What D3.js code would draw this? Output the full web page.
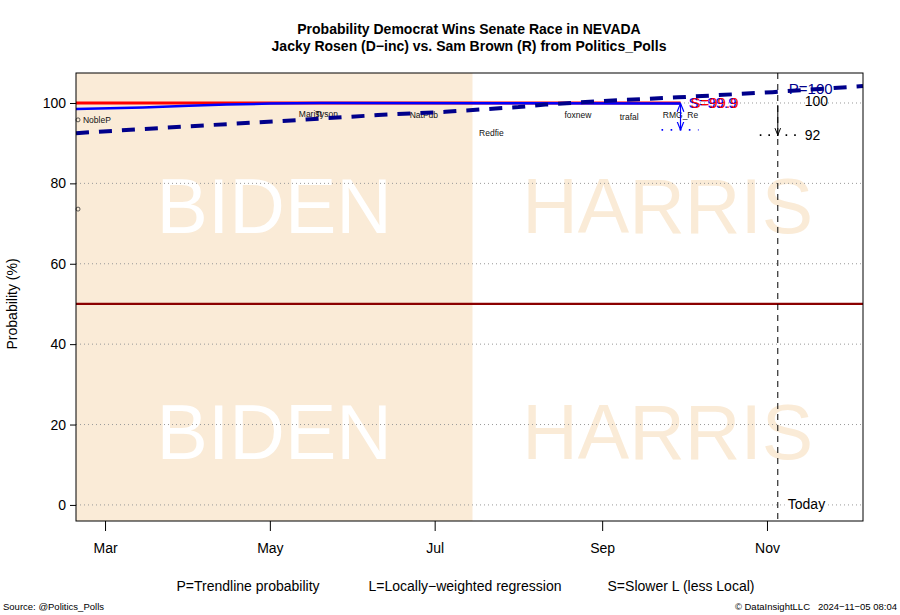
<!DOCTYPE html>
<html><head><meta charset="utf-8">
<script src="https://cdn.jsdelivr.net/npm/d3@7"></script>
<style>body{margin:0;background:#fff}svg{display:block;font-family:"Liberation Sans",Arial,sans-serif}</style>
</head><body><svg id="c" width="900" height="615"></svg>
<script>
const D = (y,m,d,h=0) => new Date(Date.UTC(y,m-1,d,h));
// ---- data ----
const xDomain = [D(2024,2,19,6), D(2024,12,6,13)];
const yDomain = [-4, 107.46];
const yTicks = [0,20,40,60,80,100];
const xTickDates = [D(2024,3,1), D(2024,5,1), D(2024,7,1), D(2024,9,1), D(2024,11,1)];
const xTickLabels = ["Mar","May","Jul","Sep","Nov"];
const bidenEnd = D(2024,7,15);
const today = D(2024,11,5);
// L: locally-weighted regression (red)
const lDates = [D(2024,2,19,6), D(2024,9,30)];
const lValues = [100, 100];
// S: slower L (blue solid)
const sDates = [D(2024,2,19,6), D(2024,3,15), D(2024,4,1), D(2024,4,15), D(2024,5,1), D(2024,5,20), D(2024,9,30)];
const sValues = [98.5, 98.9, 99.3, 99.6, 99.85, 100, 99.9];
// P: trendline probability (dark blue dashed)
const pDates = [D(2024,2,19,6), D(2024,4,1), D(2024,5,5), D(2024,6,10), D(2024,7,5), D(2024,8,1), D(2024,8,11), D(2024,9,1), D(2024,9,29), D(2024,11,3), D(2024,12,6,13)];
const pValues = [92.5, 94.2, 95.5, 97.0, 97.8, 99.0, 99.6, 100.5, 101.4, 102.7, 104.2];
// polls
const pollLabels = ["NobleP","Marist","Tyson","NatPub","Redfie","foxnew","trafal","RMG_Re"];
const pollDates = [D(2024,2,27), D(2024,5,16), D(2024,5,22), D(2024,6,27), D(2024,7,22), D(2024,8,23), D(2024,9,11), D(2024,9,30)];
const pollValues = [95.8, 97.3, 97.3, 97.1, 92.5, 97.0, 96.5, 97.0];
const circleDates = [D(2024,2,20), D(2024,2,20)];
const circleValues = [95.8, 73.6];
// end annotations
const sEndValue = 99.9, sLow = 93.3;
const pEndValue = 100, pLow = 92;

// ---- chart ----
const svg = d3.select("#c");
const L = 76, R = 863, T = 73, B = 521;
const x = d3.scaleUtc().domain(xDomain).range([L, R]);
const y = d3.scaleLinear().domain(yDomain).range([B, T]);

// background regions
svg.append("rect").attr("x", L).attr("y", T).attr("width", x(bidenEnd) - L).attr("height", B - T).attr("fill", "#FAEBD7");

// watermarks
const wm = (txt, cx, vy, col) => svg.append("text").attr("x", cx).attr("y", vy).attr("text-anchor","middle")
  .attr("font-size", 77).attr("fill", col).text(txt);
const bidenMid = (L + x(bidenEnd)) / 2, harrisMid = (x(bidenEnd) + R) / 2;
wm("BIDEN", bidenMid, 233, "#ffffff");
wm("BIDEN", bidenMid, 459, "#ffffff");
wm("HARRIS", harrisMid, 233, "#FAEBD7");
wm("HARRIS", harrisMid, 459, "#FAEBD7");

// gridlines
svg.append("g").selectAll("line").data(yTicks).join("line")
  .attr("x1", L).attr("x2", R).attr("y1", d => y(d)).attr("y2", d => y(d))
  .attr("stroke", "#999").attr("stroke-width", 1).attr("stroke-dasharray", "1,3");

// 50% line
svg.append("line").attr("x1", L).attr("x2", R).attr("y1", y(50)).attr("y2", y(50))
  .attr("stroke", "#8B0000").attr("stroke-width", 2.2);

// poll labels & circles
svg.append("g").selectAll("text").data(pollLabels).join("text")
  .attr("x", (d,i) => x(pollDates[i])).attr("y", (d,i) => y(pollValues[i]) + 3)
  .attr("text-anchor","middle").attr("font-size", 8.5).attr("fill", "#111").text(d => d);
svg.append("g").selectAll("circle").data(circleValues).join("circle")
  .attr("cx", (d,i) => x(circleDates[i])).attr("cy", d => y(d)).attr("r", 2)
  .attr("fill","none").attr("stroke","#333").attr("stroke-width",0.8);

const line = d3.line().x(d => x(d[0])).y(d => y(d[1]));
svg.append("path").attr("d", line(d3.zip(lDates, lValues))).attr("fill","none").attr("stroke","#ff0000").attr("stroke-width",3);
svg.append("path").attr("d", line(d3.zip(sDates, sValues))).attr("fill","none").attr("stroke","#0000ff").attr("stroke-width",2.5);

// S annotation (blue)
const sx = x(sDates[sDates.length-1]);
const defs = svg.append("defs");
const mk = (id, col) => defs.append("marker").attr("id", id).attr("viewBox","0 0 10 10").attr("refX",10).attr("refY",5)
  .attr("markerWidth",7).attr("markerHeight",7).attr("orient","auto-start-reverse")
  .append("path").attr("d","M0,1 L10,5 L0,9").attr("fill","none").attr("stroke",col).attr("stroke-width",1.4);
mk("ab","#0000ff"); mk("ak","#000");
svg.append("line").attr("x1", sx).attr("x2", sx).attr("y1", y(sEndValue)).attr("y2", y(sLow))
  .attr("stroke","#0000ff").attr("stroke-width",1.2).attr("marker-start","url(#ab)").attr("marker-end","url(#ab)");
svg.append("line").attr("x1", sx - 19).attr("x2", sx + 18).attr("y1", y(sLow)).attr("y2", y(sLow))
  .attr("stroke","#0000ff").attr("stroke-width",1.6).attr("stroke-dasharray","1.6,7.5");

// Today line
const tx = x(today);
svg.append("line").attr("x1", tx).attr("x2", tx).attr("y1", T).attr("y2", B)
  .attr("stroke","#000").attr("stroke-width",1).attr("stroke-dasharray","6,5");
svg.append("rect").attr("x", tx + 7).attr("y", y(0) - 9).attr("width", 42).attr("height", 17).attr("fill","#fff");
svg.append("text").attr("x", tx + 10).attr("y", y(0) + 4).attr("font-size", 14).text("Today");

// P annotation (black)
svg.append("line").attr("x1", tx).attr("x2", tx).attr("y1", y(pEndValue) + 2).attr("y2", y(pLow))
  .attr("stroke","#000").attr("stroke-width",1).attr("marker-end","url(#ak)");
svg.append("line").attr("x1", tx - 18).attr("x2", tx + 18).attr("y1", y(pLow)).attr("y2", y(pLow))
  .attr("stroke","#000").attr("stroke-width",1.6).attr("stroke-dasharray","1.6,7");
svg.append("text").attr("x", tx + 27).attr("y", y(pEndValue) + 3).attr("font-size", 14).text(String(pEndValue));
svg.append("text").attr("x", tx + 27).attr("y", y(pLow) + 5).attr("font-size", 14).text(String(pLow));
svg.append("text").attr("x", tx + 11).attr("y", y(pValues[pValues.length-2]) + 2).attr("font-size", 15)
  .attr("fill","#00008B").text("P=" + pEndValue);

// S label
svg.append("text").attr("x", sx + 8).attr("y", y(sEndValue) + 5).attr("font-size", 15).attr("fill","#0000ff").text("S=" + sEndValue);
svg.append("text").attr("x", sx + 10).attr("y", y(sEndValue) + 5).attr("font-size", 15).attr("fill","#ff0000").text("S=" + sEndValue);

// P trend
svg.append("path").attr("d", line(d3.zip(pDates, pValues))).attr("fill","none").attr("stroke","#00008B")
  .attr("stroke-width",4).attr("stroke-dasharray","13,10");

// frame
svg.append("rect").attr("x", L).attr("y", T).attr("width", R - L).attr("height", B - T)
  .attr("fill","none").attr("stroke","#000").attr("stroke-width",1);

// axes
const yAx = svg.append("g").attr("transform", `translate(${L},0)`)
  .call(d3.axisLeft(y).tickValues(yTicks).tickSize(6).tickPadding(4));
yAx.select(".domain").remove();
yAx.selectAll("text").attr("font-size", 14).attr("font-family", "Liberation Sans, Arial, sans-serif").attr("fill","#000");
const xAx = svg.append("g").attr("transform", `translate(0,${B})`)
  .call(d3.axisBottom(x).tickValues(xTickDates).tickFormat((d,i) => xTickLabels[i]).tickSize(10).tickPadding(12));
xAx.select(".domain").remove();
xAx.selectAll("text").attr("font-size", 14).attr("font-family", "Liberation Sans, Arial, sans-serif").attr("fill","#000");

svg.append("text").attr("transform", `translate(17,${(y(0)+y(100))/2+ (y(50)-(y(0)+y(100))/2)}) rotate(-90)`)
  .attr("text-anchor","middle").attr("font-size", 14).text("Probability (%)");

// titles
svg.append("text").attr("x", 469).attr("y", 34).attr("text-anchor","middle").attr("font-size", 14).attr("font-weight","bold")
  .text("Probability Democrat Wins Senate Race in NEVADA");
svg.append("text").attr("x", 469).attr("y", 51).attr("text-anchor","middle").attr("font-size", 14).attr("font-weight","bold")
  .text("Jacky Rosen (D\u2212inc) vs. Sam Brown (R) from Politics_Polls");

// legend
const legendItems = ["P=Trendline probability", "L=Locally\u2212weighted regression", "S=Slower L (less Local)"];
const legendX = [248, 465, 681];
svg.append("g").selectAll("text").data(legendItems).join("text")
  .attr("x", (d,i) => legendX[i]).attr("y", 591).attr("text-anchor","middle").attr("font-size", 14).text(d => d);

// footer
svg.append("text").attr("x", 3).attr("y", 610).attr("font-size", 9.5).text("Source: @Politics_Polls");
svg.append("text").attr("x", 897).attr("y", 610).attr("text-anchor","end").attr("font-size", 9.5).text("\u00A9 DataInsightLLC   2024\u221211\u221205 08:04").attr("xml:space","preserve").style("white-space","pre");
</script></body></html>
